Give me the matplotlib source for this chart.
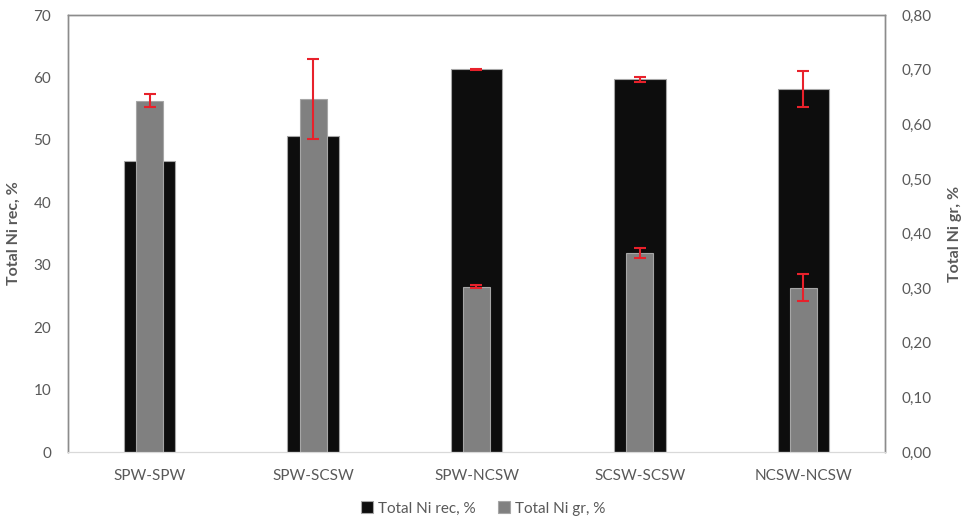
import numpy as np
import matplotlib
matplotlib.use("Agg")
import matplotlib.pyplot as plt
from matplotlib.ticker import FuncFormatter

plt.rcParams["font.family"] = ["Lato", "DejaVu Sans"]

categories = ["SPW-SPW", "SPW-SCSW", "SPW-NCSW", "SCSW-SCSW", "NCSW-NCSW"]
ni_rec = [46.7, 50.6, 61.3, 59.7, 58.1]
ni_rec_err = [0.0, 0.0, 0.1, 0.37, 2.9]
ni_gr = [0.643, 0.646, 0.303, 0.365, 0.301]
ni_gr_err = [0.012, 0.073, 0.003, 0.009, 0.025]

TXT = "#595959"
RED = "#e8212b"

fig = plt.figure(figsize=(9.66, 5.21), dpi=100)
ax = fig.add_axes([0.0704, 0.1324, 0.8457, 0.8387])
ax2 = ax.twinx()

x = np.arange(len(categories))
ax.bar(x, ni_rec, width=0.315, color="#0d0d0d", edgecolor="#a6a6a6",
       linewidth=0.8, label="Total Ni rec, %", zorder=2)
ax.errorbar(x, ni_rec, yerr=ni_rec_err, fmt="none", ecolor=RED,
            elinewidth=1.5, capsize=4, capthick=1.5, zorder=3)

ax2.bar(x, ni_gr, width=0.165, color="#808080", edgecolor="#a6a6a6",
        linewidth=0.8, label="Total Ni gr, %", zorder=2)
ax2.errorbar(x, ni_gr, yerr=ni_gr_err, fmt="none", ecolor=RED,
             elinewidth=1.5, capsize=4, capthick=1.5, zorder=3)

ax.set_xlim(-0.5, len(categories) - 0.5)
ax.set_ylim(0, 70)
ax.set_yticks(np.arange(0, 71, 10))
ax2.set_ylim(0, 0.8)
ax2.set_yticks(np.arange(0, 0.81, 0.1))
ax2.yaxis.set_major_formatter(FuncFormatter(lambda v, p: f"{v:.2f}".replace(".", ",")))

ax.set_xticks(x)
ax.set_xticklabels(categories)

for a in (ax, ax2):
    a.tick_params(axis="both", length=0, labelsize=11, labelcolor=TXT)
    for side in ("left", "right", "top"):
        a.spines[side].set_color("#8c8c8c")
        a.spines[side].set_linewidth(1.0)
    a.spines["bottom"].set_color("#d9d9d9")
ax.tick_params(axis="y", pad=12)
ax2.tick_params(axis="y", pad=12)
ax.tick_params(axis="x", pad=12)

ax.set_ylabel("Total Ni rec, %", fontsize=11.5, fontweight="bold", color=TXT, labelpad=9)
ax2.set_ylabel("Total Ni gr, %", fontsize=11.5, fontweight="bold", color=TXT, labelpad=12)

h1, l1 = ax.get_legend_handles_labels()
h2, l2 = ax2.get_legend_handles_labels()
fig.legend(h1 + h2, l1 + l2, loc="center", bbox_to_anchor=(0.5, 0.024),
           ncol=2, frameon=False, fontsize=11, labelcolor=TXT,
           handlelength=0.8, handleheight=0.8, handletextpad=0.3, columnspacing=1.5)

fig.savefig("out.png", dpi=100)
